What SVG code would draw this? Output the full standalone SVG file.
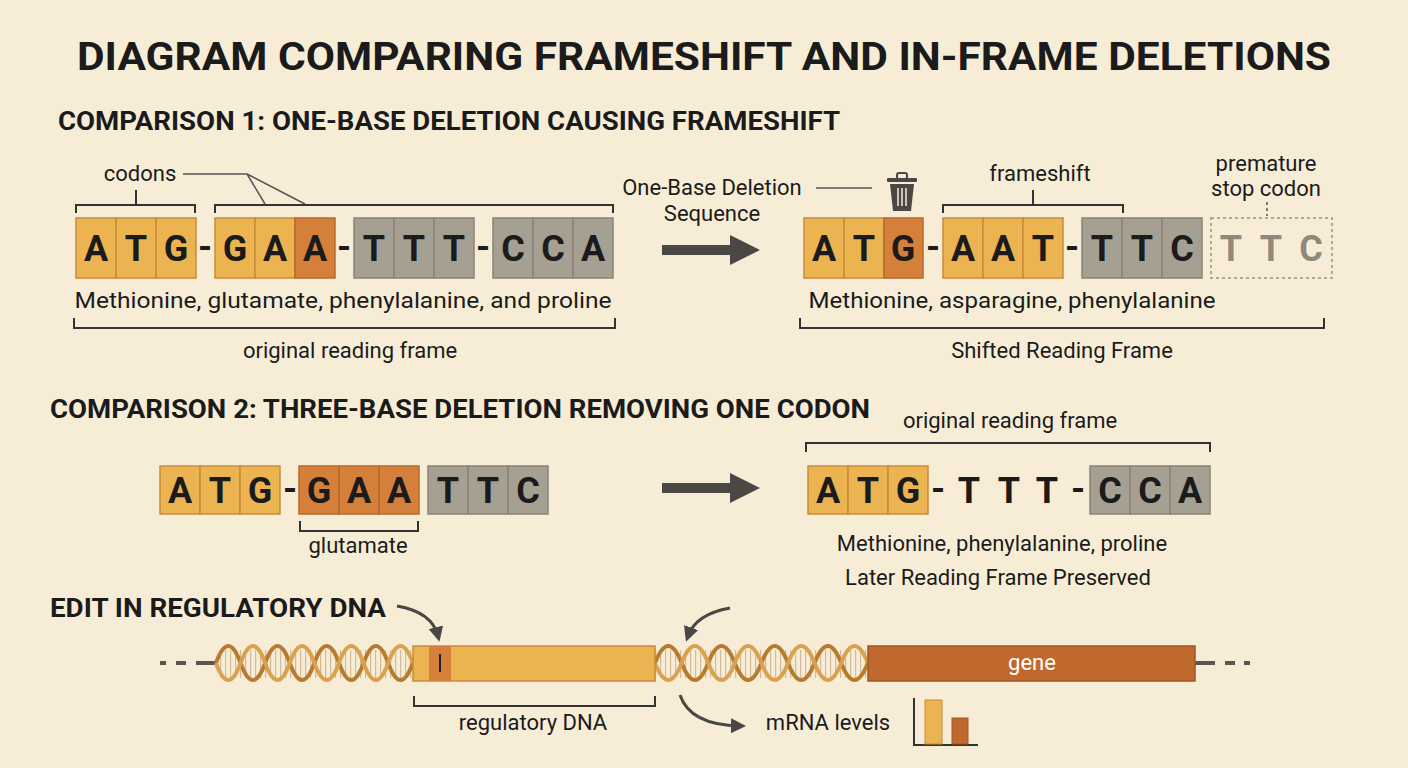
<svg xmlns="http://www.w3.org/2000/svg" width="1408" height="768" viewBox="0 0 1408 768">
<defs>
<style>
text{font-family:Roboto,"Liberation Sans",sans-serif;fill:#1b1b1b}
.t{font-size:38px;font-weight:bold;text-anchor:middle}
.h{font-size:25px;font-weight:bold}
.b{font-size:36px;font-weight:bold;text-anchor:middle}
.l{font-size:22px;text-anchor:middle}
.o{fill:#ebb450;stroke:#c98a3a;stroke-width:1.5}
.d{fill:#d4803a;stroke:#b8692a;stroke-width:1.5}
.g{fill:#a6a093;stroke:#8a8377;stroke-width:1.5}
.br{fill:none;stroke:#333;stroke-width:2}
.ln{fill:none;stroke:#555;stroke-width:1.5}
.ar{fill:#4a4744}
.hx1{fill:none;stroke:#b87a30;stroke-width:4}
.hx2{fill:none;stroke:#d9a250;stroke-width:4}
</style>
<pattern id="rung" width="5" height="10" patternUnits="userSpaceOnUse"><rect x="0" y="0" width="1.2" height="10" fill="#b89a70"/></pattern>
<marker id="ah" viewBox="0 0 10 10" refX="6" refY="5" markerWidth="5" markerHeight="5" orient="auto"><path d="M0,0 L10,5 L0,10 z" fill="#4a4744"/></marker>
</defs>
<rect width="1408" height="768" fill="#f7edd6"/>
<text class="t" x="704" y="70" textLength="1254" lengthAdjust="spacingAndGlyphs">DIAGRAM COMPARING FRAMESHIFT AND IN-FRAME DELETIONS</text>
<text class="h" x="58" y="130" textLength="782" lengthAdjust="spacingAndGlyphs">COMPARISON 1: ONE-BASE DELETION CAUSING FRAMESHIFT</text>

<g id="c1-original">
<rect class="o" x="76" y="218" width="40" height="60"/><rect class="o" x="116" y="218" width="40" height="60"/><rect class="o" x="156" y="218" width="40" height="60"/>
<rect class="o" x="215" y="218" width="40" height="60"/><rect class="o" x="255" y="218" width="40" height="60"/><rect class="d" x="295" y="218" width="40" height="60"/>
<rect class="g" x="354" y="218" width="40" height="60"/><rect class="g" x="394" y="218" width="40" height="60"/><rect class="g" x="434" y="218" width="40" height="60"/>
<rect class="g" x="493" y="218" width="40" height="60"/><rect class="g" x="533" y="218" width="40" height="60"/><rect class="g" x="573" y="218" width="40" height="60"/>
<text class="b" x="96" y="261">A</text><text class="b" x="136" y="261">T</text><text class="b" x="176" y="261">G</text><text class="b" x="205" y="259">-</text>
<text class="b" x="235" y="261">G</text><text class="b" x="275" y="261">A</text><text class="b" x="315" y="261">A</text><text class="b" x="344" y="259">-</text>
<text class="b" x="374" y="261">T</text><text class="b" x="414" y="261">T</text><text class="b" x="454" y="261">T</text><text class="b" x="483" y="259">-</text>
<text class="b" x="513" y="261">C</text><text class="b" x="553" y="261">C</text><text class="b" x="593" y="261">A</text>
<text class="l" x="140" y="181">codons</text>
<path class="br" d="M76,213 V205 H195 V213 M136,205 V190 M215,213 V205 H613 V213"/>
<path class="ln" d="M183,174 H247 L265,204 M247,174 L305,204"/>
<text class="l" x="343" y="308" textLength="537" lengthAdjust="spacingAndGlyphs">Methionine,  glutamate, phenylalanine, and proline</text>
<path class="br" d="M74,318 V328 H615 V318"/>
<text class="l" x="350" y="358">original reading frame</text>
</g>

<g id="arrow1"><path d="M662,245 H730 V235 L760,250 L730,265 V255 H662 z" class="ar"/></g>

<g id="c1-deletion">
<text class="l" x="712" y="195">One-Base Deletion</text>
<text class="l" x="712" y="221">Sequence</text>
<path class="ln" d="M816,188 H872"/>
<g fill="#4a4744"><rect x="887" y="178" width="30" height="4" rx="1"/><rect x="897" y="173" width="10" height="6" rx="2" fill="none" stroke="#4a4744" stroke-width="2"/><path d="M890,184 H914 L911,211 H893 z"/></g>
<path d="M898,188 V206 M902,188 V206 M906,188 V206" stroke="#f7edd6" stroke-width="1.5"/>
</g>

<g id="c1-shifted">
<rect class="o" x="804" y="218" width="40" height="60"/><rect class="o" x="844" y="218" width="40" height="60"/><rect class="d" x="884" y="218" width="39" height="60"/>
<rect class="o" x="943" y="218" width="40" height="60"/><rect class="o" x="983" y="218" width="40" height="60"/><rect class="o" x="1023" y="218" width="40" height="60"/>
<rect class="g" x="1082" y="218" width="40" height="60"/><rect class="g" x="1122" y="218" width="40" height="60"/><rect class="g" x="1162" y="218" width="40" height="60"/>
<rect x="1211" y="218" width="121" height="60" fill="none" stroke="#9a9488" stroke-width="1.5" stroke-dasharray="3,3"/>
<text class="b" x="824" y="261">A</text><text class="b" x="864" y="261">T</text><text class="b" x="903" y="261">G</text><text class="b" x="933" y="259">-</text>
<text class="b" x="963" y="261">A</text><text class="b" x="1003" y="261">A</text><text class="b" x="1043" y="261">T</text><text class="b" x="1072" y="259">-</text>
<text class="b" x="1102" y="261">T</text><text class="b" x="1142" y="261">T</text><text class="b" x="1182" y="261">C</text>
<text class="b" x="1231" y="261" style="fill:#8f897d">T</text><text class="b" x="1271" y="261" style="fill:#8f897d">T</text><text class="b" x="1311" y="261" style="fill:#8f897d">C</text>
<text class="l" x="1040" y="181">frameshift</text>
<path class="br" d="M943,213 V205 H1123 V213 M1033,205 V190"/>
<text class="l" x="1266" y="171">premature</text>
<text class="l" x="1266" y="196">stop codon</text>
<path class="ln" d="M1267,202 V216" stroke-dasharray="3,3"/>
<text class="l" x="1012" y="308" textLength="407" lengthAdjust="spacingAndGlyphs">Methionine, asparagine, phenylalanine</text>
<path class="br" d="M800,318 V328 H1324 V318"/>
<text class="l" x="1062" y="358">Shifted Reading Frame</text>
</g>

<text class="h" x="50" y="418" textLength="820" lengthAdjust="spacingAndGlyphs">COMPARISON 2: THREE-BASE DELETION REMOVING ONE CODON</text>

<g id="c2-original">
<rect class="o" x="160" y="466" width="40" height="48"/><rect class="o" x="200" y="466" width="40" height="48"/><rect class="o" x="240" y="466" width="40" height="48"/>
<rect class="d" x="299" y="466" width="40" height="48"/><rect class="d" x="339" y="466" width="40" height="48"/><rect class="d" x="379" y="466" width="40" height="48"/>
<rect class="g" x="428" y="466" width="40" height="48"/><rect class="g" x="468" y="466" width="40" height="48"/><rect class="g" x="508" y="466" width="40" height="48"/>
<text class="b" x="180" y="503">A</text><text class="b" x="220" y="503">T</text><text class="b" x="260" y="503">G</text><text class="b" x="290" y="501">-</text>
<text class="b" x="319" y="503">G</text><text class="b" x="359" y="503">A</text><text class="b" x="399" y="503">A</text>
<text class="b" x="448" y="503">T</text><text class="b" x="488" y="503">T</text><text class="b" x="528" y="503">C</text>
<path class="br" d="M300,521 V531 H418 V521"/>
<text class="l" x="358" y="553">glutamate</text>
</g>

<g id="arrow2"><path d="M662,483 H730 V473 L760,488 L730,503 V493 H662 z" class="ar"/></g>

<g id="c2-result">
<text class="l" x="1010" y="428">original reading frame</text>
<path class="br" d="M806,452 V443 H1210 V452"/>
<rect class="o" x="808" y="466" width="40" height="48"/><rect class="o" x="848" y="466" width="40" height="48"/><rect class="o" x="888" y="466" width="40" height="48"/>
<rect class="g" x="1090" y="466" width="40" height="48"/><rect class="g" x="1130" y="466" width="40" height="48"/><rect class="g" x="1170" y="466" width="40" height="48"/>
<text class="b" x="828" y="503">A</text><text class="b" x="868" y="503">T</text><text class="b" x="908" y="503">G</text><text class="b" x="938" y="501">-</text>
<text class="b" x="969" y="503">T</text><text class="b" x="1009" y="503">T</text><text class="b" x="1047" y="503">T</text><text class="b" x="1078" y="501">-</text>
<text class="b" x="1110" y="503">C</text><text class="b" x="1150" y="503">C</text><text class="b" x="1190" y="503">A</text>
<text class="l" x="1002" y="551">Methionine, phenylalanine,  proline</text>
<text class="l" x="998" y="585">Later Reading Frame Preserved</text>
</g>

<text class="h" x="50" y="617" textLength="336" lengthAdjust="spacingAndGlyphs">EDIT IN REGULATORY DNA</text>

<g id="dna">
<path d="M160,663 H166 M176,663 H186 M196,663 H216 M1195,663 H1215 M1225,663 H1235 M1244,663 H1250" stroke="#5a5550" stroke-width="4"/>
<rect x="216" y="650" width="197" height="28" fill="url(#rung)" opacity="0.6"/>
<rect x="655" y="650" width="213" height="28" fill="url(#rung)" opacity="0.6"/>
<path class="hx1" d="M216,663 q12.3,-34 24.6,0 q12.3,34 24.6,0 q12.3,-34 24.6,0 q12.3,34 24.6,0 q12.3,-34 24.6,0 q12.3,34 24.6,0 q12.3,-34 24.6,0 q12.3,34 24.6,0"/>
<path class="hx2" d="M216,663 q12.3,34 24.6,0 q12.3,-34 24.6,0 q12.3,34 24.6,0 q12.3,-34 24.6,0 q12.3,34 24.6,0 q12.3,-34 24.6,0 q12.3,34 24.6,0 q12.3,-34 24.6,0"/>
<path class="hx1" d="M655,663 q13.3,-34 26.6,0 q13.3,34 26.6,0 q13.3,-34 26.6,0 q13.3,34 26.6,0 q13.3,-34 26.6,0 q13.3,34 26.6,0 q13.3,-34 26.6,0 q13.3,34 26.6,0"/>
<path class="hx2" d="M655,663 q13.3,34 26.6,0 q13.3,-34 26.6,0 q13.3,34 26.6,0 q13.3,-34 26.6,0 q13.3,34 26.6,0 q13.3,-34 26.6,0 q13.3,34 26.6,0 q13.3,-34 26.6,0"/>
</g>
<g id="regulatory">
<rect x="413" y="646" width="242" height="35" fill="#ebb450" stroke="#c98a3a" stroke-width="1.5"/>
<rect x="429" y="646" width="22" height="35" fill="#d4803a"/>
<path d="M440,654 V672" stroke="#222" stroke-width="2"/>
<path class="br" d="M414,696 V706 H655 V696"/>
<text class="l" x="533" y="730">regulatory DNA</text>
</g>
<g id="gene">
<rect x="868" y="646" width="327" height="35" fill="#c0692e" stroke="#a4561f" stroke-width="1.5"/>
<text class="l" x="1032" y="670" style="fill:#fff">gene</text>
</g>
<g id="mrna">
<text class="l" x="828" y="730">mRNA levels</text>
<path d="M914,698 V745 H978" stroke="#333" stroke-width="2" fill="none"/>
<rect x="925" y="700" width="17" height="44" fill="#ebb450" stroke="#c98a3a"/>
<rect x="952" y="718" width="16" height="26" fill="#c0692e" stroke="#a4561f"/>
</g>
<g id="connectors" fill="none" stroke="#4a4744" stroke-width="3">
<path d="M397,606 Q432,612 438,636" marker-end="url(#ah)"/>
<path d="M730,608 Q696,614 688,636" marker-end="url(#ah)"/>
<path d="M680,695 Q690,725 740,726" marker-end="url(#ah)"/>
</g>
</svg>
